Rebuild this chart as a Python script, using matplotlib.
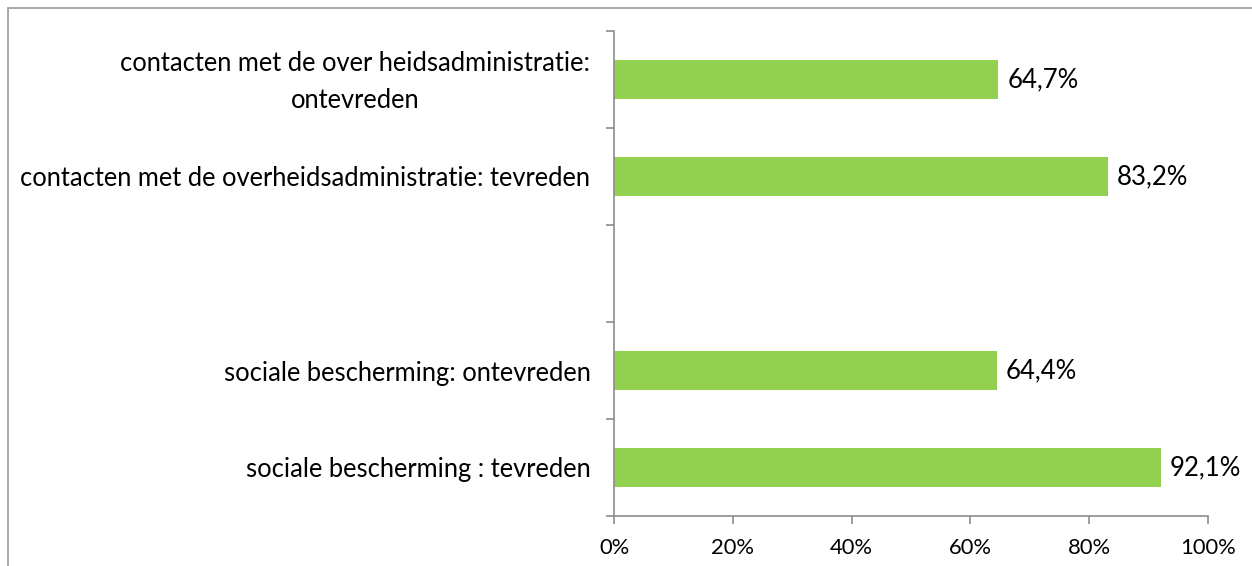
import numpy as np
import matplotlib.pyplot as plt
from matplotlib.patches import Rectangle
from matplotlib.ticker import FuncFormatter
from matplotlib.transforms import ScaledTranslation

# Categories top to bottom, empty slot kept as a gap
categories = ['contacten met de over heidsadministratie:\nontevreden',
              'contacten met de overheidsadministratie: tevreden',
              '',
              'sociale bescherming: ontevreden',
              'sociale bescherming : tevreden']
values = [64.7, 83.2, np.nan, 64.4, 92.1]
x_ticks = [0, 20, 40, 60, 80, 100]

bar_color = '#92D050'
axis_color = '#8C8C8C'

plt.rcParams['font.family'] = ['Lato', 'DejaVu Sans']

fig = plt.figure(figsize=(12.52, 5.66), dpi=100)
ax = fig.add_axes([614 / 1252, 1 - 516 / 566, (1208 - 614) / 1252, (516 - 31) / 566])

y = np.arange(len(categories))
ax.barh(y, values, height=0.4, color=bar_color)
for yi, v in zip(y, values):
    if not np.isnan(v):
        ax.text(v + 1.5, yi, f'{v:.1f}%'.replace('.', ','), va='center',
                ha='left', fontsize=18.5)

ax.set_ylim(len(categories) - 0.5, -0.5)
ax.set_xlim(0, 100)
ax.set_xticks(x_ticks)
ax.xaxis.set_major_formatter(FuncFormatter(lambda v, p: f'{v:.0f}%'))
ax.set_yticks(np.arange(len(categories) + 1) - 0.5, minor=False)
ax.set_yticklabels([])
ax.set_yticks(y, minor=True)
ax.set_yticklabels(categories, minor=True, fontsize=18.4,
                   multialignment='center', linespacing=1.6)
ax.tick_params(axis='y', which='minor', length=0, pad=17)
ax.tick_params(axis='y', which='major', length=6, width=1.2, color=axis_color)
ax.tick_params(axis='x', length=6, width=1.2, color=axis_color, labelsize=15.8, pad=10)

# nudge the two-line label up a little
lbl = ax.get_yticklabels(minor=True)[0]
lbl.set_transform(lbl.get_transform() + ScaledTranslation(0, 0.06, fig.dpi_scale_trans))

for side in ['top', 'right']:
    ax.spines[side].set_visible(False)
for side in ['left', 'bottom']:
    ax.spines[side].set_color(axis_color)
    ax.spines[side].set_linewidth(1.2)

# outer chart frame (extends past the image on right and bottom)
fig.patches.append(Rectangle((8 / 1252, -0.1), 1.1, 1.1 - 8 / 566,
                             transform=fig.transFigure, fill=False,
                             edgecolor='#A0A0A0', linewidth=1.3))

plt.savefig('out.png', dpi=100)
